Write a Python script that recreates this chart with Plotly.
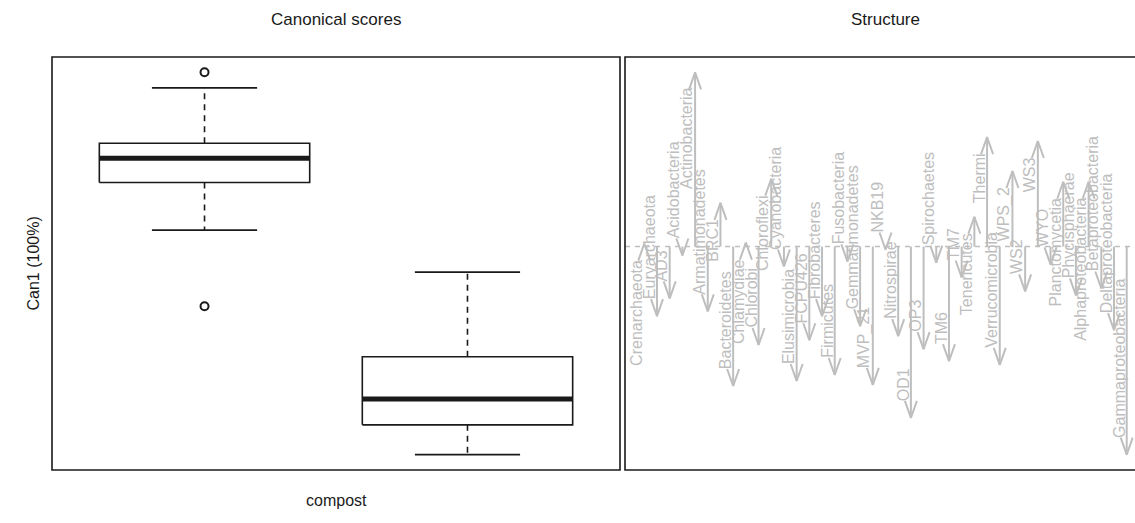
import plotly.graph_objects as go

# ---- Canonical scores by compost group (box-plot summaries, Can1) ----
group_pos = [1, 2]
score_lower = [0.84, -4.80]
score_q1 = [2.035, -4.05]
score_median = [2.64, -3.40]
score_q3 = [3.02, -2.34]
score_upper = [4.41, -0.215]
outlier_group = [1, 1]
outlier_value = [4.80, -1.075]

# ---- Structure coefficients (correlation of each taxon with Can1) ----
taxa = [
    "Crenarchaeota", "Euryarchaeota", "AD3", "Acidobacteria", "Actinobacteria",
    "Armatimonadetes", "BRC1", "Bacteroidetes", "Chlamydiae", "Chlorobi",
    "Chloroflexi", "Cyanobacteria", "Elusimicrobia", "FCPU426", "Fibrobacteres",
    "Firmicutes", "Fusobacteria", "Gemmatimonadetes", "MVP_21", "NKB19",
    "Nitrospirae", "OD1", "OP3", "Spirochaetes", "TM6",
    "TM7", "Tenericutes", "Thermi", "Verrucomicrobia", "WPS_2",
    "WS2", "WS3", "WYO", "Planctomycetia", "Phycisphaerae",
    "Alphaproteobacteria", "Betaproteobacteria", "Deltaproteobacteria", "Gammaproteobacteria",
]
structure = [
    0.013, -0.304, -0.226, -0.039, 0.761,
    -0.283, 0.191, -0.609, 0.017, -0.430,
    0.296, -0.087, -0.587, -0.409, -0.304,
    -0.561, -0.065, -0.348, -0.604, -0.013,
    -0.391, -0.748, -0.448, -0.070, -0.500,
    -0.135, 0.130, 0.478, -0.517, 0.330,
    -0.196, 0.461, -0.078, 0.283, -0.213,
    0.283, -0.183, -0.365, -0.909,
]

# ---- page geometry ----
W, H = 1135, 523
ML, MR, MT, MB = 52, 0, 57, 53
plot_w = W - ML - MR
plot_h = H - MT - MB
left_px = 568          # width of the scores panel
gap_px = 5             # space between the two framed panels
right_full_px = 521    # full width of the structure panel (runs past the page edge)
right_vis_px = plot_w - left_px - gap_px

BLACK = "#1a1a1a"
GRAY = "#BEBEBE"
FONT = "Liberation Sans, Arial, Helvetica, sans-serif"


def padded(lo, hi, frac=0.04):
    d = (hi - lo) * frac
    return lo - d, hi + d


fig = go.Figure()

# ---------------- left panel: box plots ----------------
half_box = 0.4
half_cap = 0.2
for g, lo, q1, med, q3, hi in zip(group_pos, score_lower, score_q1, score_median, score_q3, score_upper):
    # dashed whiskers
    fig.add_trace(go.Scatter(
        x=[g, g, None, g, g], y=[q3, hi, None, q1, lo], mode="lines",
        line=dict(color=BLACK, width=1.6, dash="6px,5px"), hoverinfo="skip",
        xaxis="x", yaxis="y"))
    # whisker caps
    fig.add_trace(go.Scatter(
        x=[g - half_cap, g + half_cap, None, g - half_cap, g + half_cap],
        y=[hi, hi, None, lo, lo], mode="lines",
        line=dict(color=BLACK, width=1.8), hoverinfo="skip", xaxis="x", yaxis="y"))
    # box
    fig.add_trace(go.Scatter(
        x=[g - half_box, g + half_box, g + half_box, g - half_box, g - half_box],
        y=[q1, q1, q3, q3, q1], mode="lines",
        line=dict(color=BLACK, width=1.6), fill="toself", fillcolor="white",
        hoverinfo="skip", xaxis="x", yaxis="y"))
    # median
    fig.add_trace(go.Scatter(
        x=[g - half_box, g + half_box], y=[med, med], mode="lines",
        line=dict(color=BLACK, width=5), hoverinfo="skip", xaxis="x", yaxis="y"))

fig.add_trace(go.Scatter(
    x=outlier_group, y=outlier_value, mode="markers",
    marker=dict(symbol="circle-open", size=8, color=BLACK, line=dict(width=2)),
    hoverinfo="skip", xaxis="x", yaxis="y"))

all_scores = score_lower + score_upper + outlier_value
y1_range = padded(min(all_scores), max(all_scores))
x1_range = padded(0.5, len(group_pos) + 0.5)

# ---------------- right panel: structure arrows ----------------
n = len(taxa)
idx = list(range(1, n + 1))
x2_lo, x2_hi_full = padded(1, n)
px_per_x2 = right_full_px / (x2_hi_full - x2_lo)
x2_hi_vis = x2_lo + right_vis_px / px_per_x2
y2_range = padded(min(structure + [0]), max(structure + [0]))
px_per_y2 = plot_h / (y2_range[1] - y2_range[0])

# zero line
fig.add_trace(go.Scatter(
    x=[x2_lo, x2_hi_full], y=[0, 0], mode="lines",
    line=dict(color=GRAY, width=1.5, dash="5px,5px"), hoverinfo="skip",
    xaxis="x2", yaxis="y2"))

head_len = 17 / px_per_y2
head_half = 6 / px_per_x2
ax, ay = [], []
for i, v in zip(idx, structure):
    s = 1 if v >= 0 else -1
    ax += [i, i, None, i - head_half, i, i + head_half, None]
    ay += [0, v, None, v - s * head_len, v, v - s * head_len, None]
fig.add_trace(go.Scatter(
    x=ax, y=ay, mode="lines", line=dict(color=GRAY, width=2),
    hoverinfo="skip", xaxis="x2", yaxis="y2"))

annotations = []
for i, v, name in zip(idx, structure, taxa):
    up = v >= 0
    annotations.append(dict(
        x=i, y=v, xref="x2", yref="y2", text=name, showarrow=False,
        textangle=-90, xanchor="center", xshift=-8,
        yanchor="top" if up else "bottom", yshift=-14 if up else 15,
        font=dict(family=FONT, size=16, color=GRAY)))

# titles and axis labels
left_mid = (left_px / 2) / plot_w
right_mid = (left_px + gap_px + right_full_px / 2) / plot_w
annotations += [
    dict(x=left_mid, y=1 + (MT - 20) / plot_h, xref="paper", yref="paper",
         text="Canonical scores", showarrow=False, xanchor="center", yanchor="middle",
         font=dict(family=FONT, size=17, color=BLACK)),
    dict(x=right_mid, y=1 + (MT - 20) / plot_h, xref="paper", yref="paper",
         text="Structure", showarrow=False, xanchor="center", yanchor="middle",
         font=dict(family=FONT, size=17, color=BLACK)),
    dict(x=left_mid, y=-30 / plot_h, xref="paper", yref="paper",
         text="compost", showarrow=False, xanchor="center", yanchor="middle",
         font=dict(family=FONT, size=16, color=BLACK)),
    dict(x=-19 / plot_w, y=0.5, xref="paper", yref="paper",
         text="Can1 (100%)", showarrow=False, textangle=-90,
         xanchor="center", yanchor="middle",
         font=dict(family=FONT, size=16, color=BLACK)),
]

frame = dict(color=BLACK, width=1.6)
shapes = [
    dict(type="rect", xref="paper", yref="paper", x0=0, x1=left_px / plot_w,
         y0=0, y1=1, line=frame, layer="above"),
    dict(type="rect", xref="paper", yref="paper", x0=(left_px + gap_px) / plot_w,
         x1=(left_px + gap_px + right_full_px) / plot_w, y0=0, y1=1,
         line=frame, layer="above"),
]

hidden = dict(showgrid=False, zeroline=False, showticklabels=False, ticks="",
              showline=False, fixedrange=True)
fig.update_layout(
    width=W, height=H,
    margin=dict(l=ML, r=MR, t=MT, b=MB),
    paper_bgcolor="white", plot_bgcolor="white",
    showlegend=False,
    xaxis=dict(domain=[0, left_px / plot_w], range=list(x1_range), anchor="y", **hidden),
    yaxis=dict(domain=[0, 1], range=list(y1_range), anchor="x", **hidden),
    xaxis2=dict(domain=[(left_px + gap_px) / plot_w, 1], range=[x2_lo, x2_hi_vis],
                anchor="y2", **hidden),
    yaxis2=dict(domain=[0, 1], range=list(y2_range), anchor="x2", **hidden),
    annotations=annotations,
    shapes=shapes,
)

fig.write_html("out.html")
